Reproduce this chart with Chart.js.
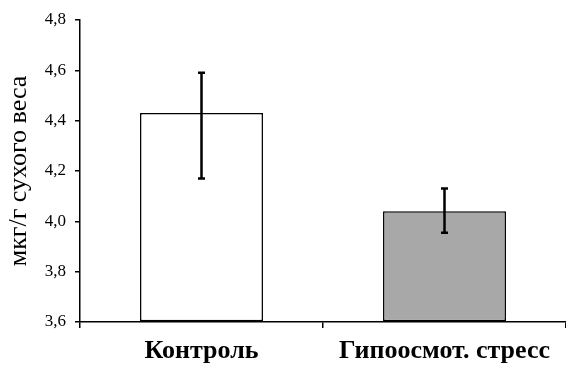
<!DOCTYPE html>
<html>
<head>
<meta charset="utf-8">
<script src="https://cdn.jsdelivr.net/npm/chart.js@4/dist/chart.umd.min.js"></script>
<style>
  html, body { margin: 0; padding: 0; background: #ffffff; }
  #wrap { width: 566px; height: 367px; }
</style>
</head>
<body>
<div id="wrap"><canvas id="c" width="566" height="367"></canvas></div>
<script>
// Bar groups and their measured means
const categories = ['Контроль', 'Гипоосмот. стресс'];
const means = [4.43, 4.04];
// Error bar extents above and below each mean
const errUp = [0.16, 0.09];
const errDown = [0.26, 0.085];
const barColors = ['#ffffff', '#a8a8a8'];
const yTicks = [3.6, 3.8, 4.0, 4.2, 4.4, 4.6, 4.8];
const yTitle = 'мкг/г сухого веса';

const serif = "'Liberation Serif', 'Times New Roman', serif";

// Draws vertical error bars with small caps on top of each bar
const errorBars = {
  id: 'errorBars',
  afterDatasetsDraw(chart) {
    const { ctx, scales: { x, y } } = chart;
    ctx.save();
    ctx.strokeStyle = '#000';
    ctx.lineWidth = 2.5;
    ctx.lineCap = 'butt';
    means.forEach((m, i) => {
      const cx = x.getPixelForValue(i);
      const top = y.getPixelForValue(m + errUp[i]);
      const bot = y.getPixelForValue(m - errDown[i]);
      const cap = 3.5;
      ctx.beginPath();
      ctx.moveTo(cx, top);
      ctx.lineTo(cx, bot);
      ctx.moveTo(cx - cap, top);
      ctx.lineTo(cx + cap, top);
      ctx.moveTo(cx - cap, bot);
      ctx.lineTo(cx + cap, bot);
      ctx.stroke();
    });
    ctx.restore();
  }
};

new Chart(document.getElementById('c'), {
  type: 'bar',
  data: {
    labels: categories,
    datasets: [{
      data: means,
      backgroundColor: barColors,
      borderColor: '#000',
      borderWidth: 1.5,
      borderSkipped: false,
      barPercentage: 0.506,
      categoryPercentage: 1.0,
      base: 3.6
    }]
  },
  options: {
    responsive: false,
    animation: false,
    devicePixelRatio: 1,
    layout: { padding: { top: 20, right: 0, left: 0, bottom: 0 } },
    plugins: {
      legend: { display: false },
      tooltip: { enabled: false }
    },
    scales: {
      x: {
        offset: true,
        border: { display: true, color: '#000', width: 1.5 },
        grid: { display: true, offset: true, drawOnChartArea: false, drawTicks: true, tickLength: 6, color: '#000', lineWidth: 1.5 },
        ticks: {
          color: '#000',
          padding: 8,
          maxRotation: 0,
          autoSkip: false,
          font: { family: serif, size: 26, weight: 'bold' }
        },
        afterFit(scale) { scale.height = 45; }
      },
      y: {
        min: 3.6,
        max: 4.8,
        afterBuildTicks(scale) {
          scale.ticks = yTicks.map(v => ({ value: v }));
        },
        border: { display: true, color: '#000', width: 1.5 },
        grid: { display: true, drawOnChartArea: false, drawTicks: true, tickLength: 5, color: '#000', lineWidth: 1.5 },
        ticks: {
          color: '#000',
          padding: 9,
          font: { family: serif, size: 17 },
          callback: v => Number(v).toFixed(1).replace('.', ',')
        },
        title: {
          display: true,
          text: yTitle,
          color: '#000',
          padding: { top: 4, bottom: 0 },
          font: { family: serif, size: 26 }
        },
        afterFit(scale) { scale.width = 80; }
      }
    }
  },
  plugins: [errorBars]
});
</script>
</body>
</html>
